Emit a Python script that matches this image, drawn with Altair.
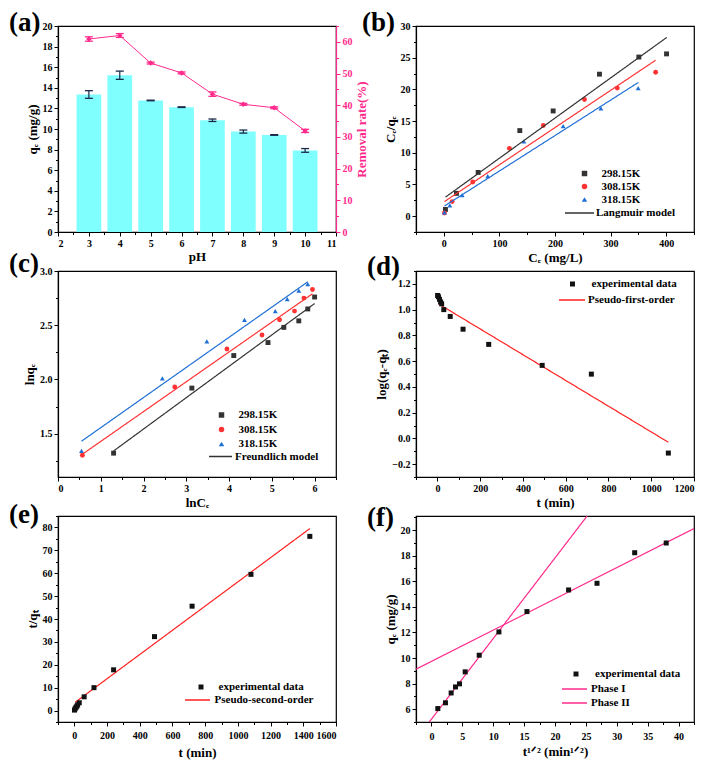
import math
import altair as alt
import pandas as pd

FONT = "Liberation Serif"
PINK = "#FF2A8C"
NAVY = "#1B2A4A"
CYAN = "#80FFFF"
W, H = 278, 206

# ---------------- (a) effect of pH ----------------
ph = [3, 4, 5, 6, 7, 8, 9, 10]
qe_ph = [13.35, 15.22, 12.77, 12.12, 10.85, 9.75, 9.42, 7.92]
qe_ph_err = [0.37, 0.40, 0.03, 0.03, 0.12, 0.15, 0.03, 0.18]
removal = [60.9, 62.0, 53.3, 50.2, 43.5, 40.3, 39.2, 31.9]
removal_err = [0.7, 0.6, 0.3, 0.3, 0.7, 0.3, 0.3, 0.5]

# ---------------- (b) Langmuir ----------------
temps = ["298.15K", "308.15K", "318.15K"]
b_298_x = [3, 22.8, 61.8, 136.7, 196.7, 280, 350.8, 400.6]
b_298_y = [1.06, 3.6, 6.9, 13.5, 16.6, 22.4, 25.1, 25.6]
b_308_x = [1.2, 15, 52, 118, 179, 253, 312, 381]
b_308_y = [0.5, 2.3, 5.4, 10.7, 14.3, 18.4, 20.2, 22.7]
b_318_x = [1.2, 10.8, 33, 79, 144, 214.7, 282.5, 349.6]
b_318_y = [0.6, 1.7, 3.3, 6.3, 11.8, 14.2, 17.0, 20.2]
b_fit_x = [[3, 401], [1.2, 381], [1.2, 350]]
b_fit_y = [[3.0, 28.2], [2.3, 24.6], [1.6, 21.1]]

# ---------------- (c) Freundlich ----------------
c_298_x = [1.30, 3.13, 4.11, 4.91, 5.28, 5.63, 5.84, 6.00]
c_298_y = [1.32, 1.92, 2.22, 2.34, 2.48, 2.54, 2.65, 2.76]
c_308_x = [0.57, 2.73, 3.95, 4.77, 5.18, 5.53, 5.75, 5.95]
c_308_y = [1.30, 1.93, 2.28, 2.41, 2.55, 2.63, 2.75, 2.83]
c_318_x = [0.55, 2.44, 3.48, 4.36, 5.08, 5.36, 5.63, 5.84]
c_318_y = [1.34, 2.01, 2.35, 2.55, 2.63, 2.74, 2.82, 2.88]
c_fit_x = [[1.30, 6.00], [0.57, 5.95], [0.55, 5.84]]
c_fit_y = [[1.34, 2.70], [1.31, 2.79], [1.43, 2.90]]

# ---------------- (d) pseudo-first-order ----------------
d_t = [1, 5, 10, 15, 20, 30, 60, 120, 240, 490, 720, 1080]
d_y = [1.11, 1.10, 1.08, 1.06, 1.045, 1.00, 0.947, 0.848, 0.73, 0.567, 0.499, -0.114]
d_fit_t = [5, 1080]
d_fit_y = [1.045, -0.03]

# ---------------- (e) pseudo-second-order ----------------
e_t = [1, 5, 10, 15, 20, 30, 60, 120, 240, 490, 720, 1080, 1440]
e_y = [0.2, 0.8, 1.4, 1.9, 2.5, 3.4, 6.0, 10.0, 17.8, 32.3, 45.6, 59.5, 76.1]
e_fit_t = [5, 1440]
e_fit_y = [3.6, 79.5]

# ---------------- (f) intraparticle diffusion ----------------
f_x = [1.03, 2.27, 3.19, 3.89, 4.54, 5.46, 7.73, 10.92, 15.46, 22.2, 26.8, 32.9, 38.0]
f_y = [6.05, 6.5, 7.27, 7.74, 7.98, 8.92, 10.22, 12.04, 13.63, 15.32, 15.84, 18.23, 18.99]
f_p1_x = [-0.35, 25.2]
f_p1_y = [5.0, 21.1]
f_p2_x = [-2.5, 42.5]
f_p2_y = [9.13, 20.12]

T_COLORS = ["#333333", "#FF3333", "#1F6FD6"]
T_SHAPES = ["square", "circle", "triangle-up"]


def tick_vals(step, lo, hi, minor=False):
    s = step / 2 if minor else step
    start = math.ceil(lo / s - 1e-9)
    end = math.floor(hi / s + 1e-9)
    vals = [round(i * s, 6) for i in range(start, end + 1)]
    if minor:
        vals = [v for v in vals if abs(v / step - round(v / step)) > 1e-3]
    return vals


def ax(step, lo, hi, title, fmt="d", color="black", orient=None,
       labelPadding=2, titlePadding=3, **kw):
    args = dict(
        values=tick_vals(step, lo, hi), format=fmt, tickSize=4,
        title=title, grid=False, labelOverlap=False,
        domainColor=color, tickColor=color, labelColor=color, titleColor=color,
        labelFont=FONT, labelFontSize=10, labelFontWeight="bold",
        titleFont=FONT, titleFontSize=13, titleFontWeight="bold",
        labelPadding=labelPadding, titlePadding=titlePadding,
        tickWidth=1, domainWidth=1.2,
    )
    if orient:
        args["orient"] = orient
    args.update(kw)
    return alt.Axis(**args)


def minor_ax(step, lo, hi, orient, color="black"):
    return alt.Axis(values=tick_vals(step, lo, hi, minor=True), orient=orient,
                    labels=False, title=None, domain=False, grid=False,
                    tickSize=2.5, tickWidth=1, tickColor=color)


def leg(x, y, label_offset, row_pad=1, **kw):
    return alt.Legend(title=None, orient="none", legendX=x, legendY=y, padding=0,
                      labelOffset=label_offset, rowPadding=row_pad,
                      labelFont=FONT, labelFontSize=11, labelFontWeight="bold",
                      labelColor="black", symbolOpacity=1, **kw)


def line_leg(x, y_center, length, label_offset, color):
    return leg(x, y_center - length / 2, label_offset, symbolType="stroke",
               symbolSize=length * length, symbolStrokeColor=color, symbolStrokeWidth=1.5)


def letter(s, x, y):
    return alt.Chart(pd.DataFrame({"s": [s]})).mark_text(
        font=FONT, fontSize=27, fontWeight="bold", align="left",
        baseline="alphabetic", color="black"
    ).encode(x=alt.value(x), y=alt.value(y), text="s:N")


def sc(lo, hi):
    return alt.Scale(domain=[lo, hi], nice=False, zero=False)


def minor_layer(df, xf, yf, xsc, ysc, xm, ym):
    return alt.Chart(df).mark_point(opacity=0, size=1).encode(
        x=alt.X(xf, scale=xsc, axis=xm), y=alt.Y(yf, scale=ysc, axis=ym))


# ================= panel (a) =================
dfa = pd.DataFrame({"ph": ph, "qe": qe_ph, "qe_err": qe_ph_err,
                    "rr": removal, "rr_err": removal_err})
base_a = alt.Chart(dfa)
xs_a = sc(2, 11)
ys_l = sc(0, 20)
ys_r = sc(0, 65)

bars = base_a.transform_calculate(
    x0="datum.ph - 0.4", x1="datum.ph + 0.4", z="0"
).mark_bar(color=CYAN).encode(
    x=alt.X("x0:Q", scale=xs_a, axis=ax(1, 2, 11, "pH", labelPadding=2, titlePadding=2)),
    x2="x1:Q",
    y=alt.Y("qe:Q", scale=ys_l, axis=ax(2, 0, 20, "q\u2091 (mg/g)")),
    y2="z:Q",
)
err_a = base_a.transform_calculate(
    lo="datum.qe - datum.qe_err", hi="datum.qe + datum.qe_err"
).mark_rule(color=NAVY, strokeWidth=1.2).encode(
    x=alt.X("ph:Q", scale=xs_a, axis=None),
    y=alt.Y("lo:Q", scale=ys_l, axis=None), y2="hi:Q")
cap_a = base_a.transform_calculate(
    lo="datum.qe - datum.qe_err", hi="datum.qe + datum.qe_err"
).transform_fold(["lo", "hi"]).mark_tick(
    orient="horizontal", size=8, thickness=1.3, color=NAVY, opacity=1
).encode(x=alt.X("ph:Q", scale=xs_a, axis=None),
         y=alt.Y("value:Q", scale=ys_l, axis=None))
minor_a = minor_layer(dfa, "ph:Q", "qe:Q", xs_a, ys_l,
                      minor_ax(1, 2, 11, "bottom"), minor_ax(2, 0, 20, "left"))
left_a = alt.layer(bars, err_a, cap_a, minor_a).resolve_axis(x="independent", y="independent")

line_a = base_a.mark_line(color=PINK, strokeWidth=1).encode(
    x=alt.X("ph:Q", scale=xs_a, axis=None),
    y=alt.Y("rr:Q", scale=ys_r,
            axis=ax(10, 0, 65, "Removal rate(%)", color=PINK, orient="right",
                    titleAngle=270, titleBaseline="top", titlePadding=3)))
err_r = base_a.transform_calculate(
    lo="datum.rr - datum.rr_err", hi="datum.rr + datum.rr_err"
).mark_rule(color=PINK, strokeWidth=1.2).encode(
    x=alt.X("ph:Q", scale=xs_a, axis=None),
    y=alt.Y("lo:Q", scale=ys_r, axis=None), y2="hi:Q")
cap_r = base_a.transform_calculate(
    lo="datum.rr - datum.rr_err", hi="datum.rr + datum.rr_err"
).transform_fold(["lo", "hi"]).mark_tick(
    orient="horizontal", size=8, thickness=1.3, color=PINK, opacity=1
).encode(x=alt.X("ph:Q", scale=xs_a, axis=None),
         y=alt.Y("value:Q", scale=ys_r, axis=None))
pts_a = base_a.mark_point(shape="diamond", filled=True, size=30, color=PINK, opacity=1).encode(
    x=alt.X("ph:Q", scale=xs_a, axis=None),
    y=alt.Y("rr:Q", scale=ys_r, axis=None))
minor_r = minor_layer(dfa, "ph:Q", "rr:Q", xs_a, ys_r, None,
                      minor_ax(10, 0, 65, "right", color=PINK))
right_a = alt.layer(line_a, err_r, cap_r, pts_a, minor_r).resolve_axis(y="independent")

pa = alt.layer(left_a, right_a, letter("(a)", -49, 5)).resolve_scale(
    y="independent").resolve_axis(x="independent", y="independent").properties(width=W, height=H)


# ============ helpers for isotherm panels ============
def iso_frames(xs, ys, fit_x, fit_y):
    rows = []
    for T, xv, yv in zip(temps, xs, ys):
        for a, b in zip(xv, yv):
            rows.append({"x": a, "y": b, "T": T})
    pts = pd.DataFrame(rows)
    frows = []
    for T, col, xv, yv in zip(temps, T_COLORS, fit_x, fit_y):
        for a, b in zip(xv, yv):
            frows.append({"x": a, "y": b, "T": T, "c": col})
    return pts, pd.DataFrame(frows)


def iso_panel(xs, ys, fit_x, fit_y, model, xr, yr, xstep, ystep, xtitle, ytitle,
              yfmt, pleg, lleg, let):
    dpts, dfit = iso_frames(xs, ys, fit_x, fit_y)
    dfit["model"] = model
    xsc, ysc = sc(*xr), sc(*yr)
    fit = alt.Chart(dfit).mark_line(color="#333333", strokeWidth=1.2, clip=True).encode(
        x=alt.X("x:Q", scale=xsc, axis=None),
        y=alt.Y("y:Q", scale=ysc, axis=None),
        detail="T:N",
        color=alt.Color("c:N", scale=None),
        strokeDash=alt.StrokeDash("model:N", scale=alt.Scale(domain=[model], range=[[1, 0]]),
                                  legend=lleg),
    )
    pts = alt.Chart(dpts).mark_point(filled=True, size=24, opacity=1).encode(
        x=alt.X("x:Q", scale=xsc, axis=ax(xstep, *xr, xtitle)),
        y=alt.Y("y:Q", scale=ysc, axis=ax(ystep, *yr, ytitle, fmt=yfmt)),
        color=alt.Color("T:N", scale=alt.Scale(domain=temps, range=T_COLORS), legend=pleg),
        shape=alt.Shape("T:N", scale=alt.Scale(domain=temps, range=T_SHAPES), legend=pleg),
    )
    mn = minor_layer(dpts, "x:Q", "y:Q", xsc, ysc,
                     minor_ax(xstep, *xr, "bottom"), minor_ax(ystep, *yr, "left"))
    return alt.layer(pts, fit, mn, let).resolve_axis(
        x="independent", y="independent").properties(width=W, height=H)


pb = iso_panel(
    [b_298_x, b_308_x, b_318_x], [b_298_y, b_308_y, b_318_y], b_fit_x, b_fit_y,
    "Langmuir model", (-50, 450), (-2.5, 30), 100, 5,
    "C\u2091 (mg/L)", "C\u2091/q\u2091", "d",
    leg(163, 142, 11.5, row_pad=0, symbolSize=30),
    line_leg(148, 186, 29, 1, "#333333"),
    letter("(b)", -54, 5))

pc = iso_panel(
    [c_298_x, c_308_x, c_318_x], [c_298_y, c_308_y, c_318_y], c_fit_x, c_fit_y,
    "Freundlich model", (0, 6.5), (1.1, 3.0), 1, 0.5,
    "lnC\u2091", "lnq\u2091", ".1f",
    leg(158, 138.5, 11.5, row_pad=1.5, symbolSize=30),
    line_leg(150, 184.5, 23, 2, "#333333"),
    letter("(c)", -49, 1))


# ============ helpers for kinetics panels ============
def kin_panel(px, py, lines, xr, yr, xstep, ystep, xaxis, yaxis, pleg, lleg, lleg2,
              lcolor, let):
    dpts = pd.DataFrame({"x": px, "y": py, "lab": "experimental data"})
    xsc, ysc = sc(*xr), sc(*yr)
    layers = []
    for i, (name, lx, ly) in enumerate(lines):
        dl = pd.DataFrame({"x": lx, "y": ly, "name": name})
        enc = dict(x=alt.X("x:Q", scale=xsc, axis=None),
                   y=alt.Y("y:Q", scale=ysc, axis=None))
        if i == 0:
            enc["strokeDash"] = alt.StrokeDash(
                "name:N", scale=alt.Scale(domain=[name], range=[[1, 0]]), legend=lleg)
        else:
            enc["opacity"] = alt.Opacity(
                "name:N", scale=alt.Scale(domain=[name], range=[1]), legend=lleg2)
        layers.append(alt.Chart(dl).mark_line(color=lcolor, strokeWidth=1.2, clip=True).encode(**enc))
    pts = alt.Chart(dpts).mark_point(filled=True, size=25, opacity=1, color="#111111",
                                     shape="square").encode(
        x=alt.X("x:Q", scale=xsc, axis=xaxis),
        y=alt.Y("y:Q", scale=ysc, axis=yaxis),
        shape=alt.Shape("lab:N", scale=alt.Scale(domain=["experimental data"], range=["square"]),
                        legend=pleg),
    )
    mn = minor_layer(dpts, "x:Q", "y:Q", xsc, ysc,
                     minor_ax(xstep, *xr, "bottom"), minor_ax(ystep, *yr, "left"))
    return alt.layer(*layers, pts, mn, let).resolve_axis(
        x="independent", y="independent").properties(width=W, height=H)


pd_ = kin_panel(
    d_t, d_y, [("Pseudo-first-order", d_fit_t, d_fit_y)],
    (-100, 1200), (-0.3, 1.3), 200, 0.2,
    ax(200, -100, 1200, "t (min)"), ax(0.2, -0.3, 1.3, "log(q\u2091-q\u209c)", fmt=".1f"),
    leg(151, 7.5, 13.5, symbolSize=25),
    line_leg(142, 28, 26, 2, "#FF2020"), None,
    "#FF2020", letter("(d)", -49, 4))

pe = kin_panel(
    e_t, e_y, [("Pseudo-second-order", e_fit_t, e_fit_y)],
    (-100, 1600), (-5, 85), 200, 10,
    ax(200, -100, 1600, "t (min)", labelPadding=4, titlePadding=6),
    ax(10, -5, 85, "t/q\u209c"),
    leg(137.5, 165.5, 12, symbolSize=25),
    line_leg(126, 183, 25, 3.5, "#FF2020"), None,
    "#FF2020", letter("(e)", -49, 7))

pf = kin_panel(
    f_x, f_y, [("Phase I", f_p1_x, f_p1_y), ("Phase II", f_p2_x, f_p2_y)],
    (-2.5, 42.5), (5, 21.1), 5, 2,
    ax(5, -2.5, 42.5, "t\u00b9\u141f\u00b2 (min\u00b9\u141f\u00b2)", labelPadding=5, titlePadding=4),
    ax(2, 5, 21.1, "q\u2091 (mg/g)"),
    leg(154.5, 152.5, 13.5, symbolSize=25),
    line_leg(145, 172, 25, 3, PINK),
    line_leg(145, 186, 25, 3, PINK),
    PINK, letter("(f)", -49, 10))

chart = alt.concat(
    pa, pb, pc, pd_, pe, pf, columns=2,
    spacing={"row": 39, "column": 80}, bounds="flush",
).resolve_scale(
    color="independent", shape="independent", strokeDash="independent",
    opacity="independent", x="independent", y="independent",
).properties(
    padding=0,
    background="white",
).configure_view(stroke="black", strokeWidth=1.2)

chart.save("out.html", embed_options={"renderer": "svg", "actions": False})
